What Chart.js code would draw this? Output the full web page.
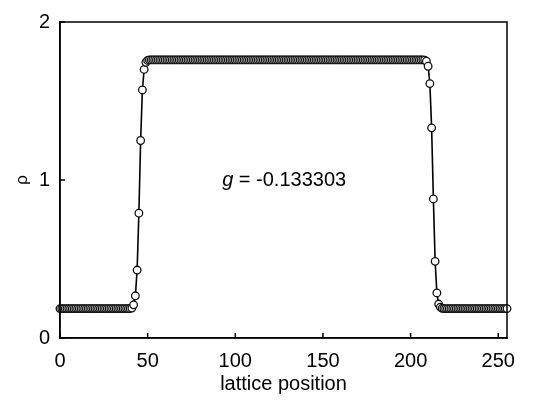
<!DOCTYPE html>
<html>
<head>
<meta charset="utf-8">
<script src="https://cdn.jsdelivr.net/npm/chart.js@4.4.0/dist/chart.umd.min.js"></script>
<style>
  html, body { margin: 0; padding: 0; background: #fff; }
  #wrap { width: 537px; height: 408px; }
</style>
</head>
<body>
<div id="wrap"><canvas id="rhoChart" width="537" height="408"></canvas></div>
<script>
// lattice positions (x) and density values (y)
const positions = [
    0, 1, 2, 3, 4, 5, 6, 7, 8, 9, 10, 11, 12, 13, 14, 15,
    16, 17, 18, 19, 20, 21, 22, 23, 24, 25, 26, 27, 28, 29, 30, 31,
    32, 33, 34, 35, 36, 37, 38, 39, 40, 41, 42, 43, 44, 45, 46, 47,
    48, 49, 50, 51, 52, 53, 54, 55, 56, 57, 58, 59, 60, 61, 62, 63,
    64, 65, 66, 67, 68, 69, 70, 71, 72, 73, 74, 75, 76, 77, 78, 79,
    80, 81, 82, 83, 84, 85, 86, 87, 88, 89, 90, 91, 92, 93, 94, 95,
    96, 97, 98, 99, 100, 101, 102, 103, 104, 105, 106, 107, 108, 109, 110, 111,
    112, 113, 114, 115, 116, 117, 118, 119, 120, 121, 122, 123, 124, 125, 126, 127,
    128, 129, 130, 131, 132, 133, 134, 135, 136, 137, 138, 139, 140, 141, 142, 143,
    144, 145, 146, 147, 148, 149, 150, 151, 152, 153, 154, 155, 156, 157, 158, 159,
    160, 161, 162, 163, 164, 165, 166, 167, 168, 169, 170, 171, 172, 173, 174, 175,
    176, 177, 178, 179, 180, 181, 182, 183, 184, 185, 186, 187, 188, 189, 190, 191,
    192, 193, 194, 195, 196, 197, 198, 199, 200, 201, 202, 203, 204, 205, 206, 207,
    208, 209, 210, 211, 212, 213, 214, 215, 216, 217, 218, 219, 220, 221, 222, 223,
    224, 225, 226, 227, 228, 229, 230, 231, 232, 233, 234, 235, 236, 237, 238, 239,
    240, 241, 242, 243, 244, 245, 246, 247, 248, 249, 250, 251, 252, 253, 254, 255
];
const rho = [
    0.186, 0.186, 0.186, 0.186, 0.186, 0.186, 0.186, 0.186, 0.186, 0.186, 0.186, 0.186, 0.186, 0.186, 0.186, 0.186,
    0.186, 0.186, 0.186, 0.186, 0.186, 0.186, 0.186, 0.186, 0.186, 0.186, 0.186, 0.186, 0.186, 0.186, 0.186, 0.186,
    0.186, 0.186, 0.186, 0.186, 0.186, 0.186, 0.186, 0.186, 0.187, 0.19, 0.21, 0.267, 0.43, 0.79, 1.25, 1.57,
    1.70, 1.745, 1.757, 1.76, 1.76, 1.76, 1.76, 1.76, 1.76, 1.76, 1.76, 1.76, 1.76, 1.76, 1.76, 1.76,
    1.76, 1.76, 1.76, 1.76, 1.76, 1.76, 1.76, 1.76, 1.76, 1.76, 1.76, 1.76, 1.76, 1.76, 1.76, 1.76,
    1.76, 1.76, 1.76, 1.76, 1.76, 1.76, 1.76, 1.76, 1.76, 1.76, 1.76, 1.76, 1.76, 1.76, 1.76, 1.76,
    1.76, 1.76, 1.76, 1.76, 1.76, 1.76, 1.76, 1.76, 1.76, 1.76, 1.76, 1.76, 1.76, 1.76, 1.76, 1.76,
    1.76, 1.76, 1.76, 1.76, 1.76, 1.76, 1.76, 1.76, 1.76, 1.76, 1.76, 1.76, 1.76, 1.76, 1.76, 1.76,
    1.76, 1.76, 1.76, 1.76, 1.76, 1.76, 1.76, 1.76, 1.76, 1.76, 1.76, 1.76, 1.76, 1.76, 1.76, 1.76,
    1.76, 1.76, 1.76, 1.76, 1.76, 1.76, 1.76, 1.76, 1.76, 1.76, 1.76, 1.76, 1.76, 1.76, 1.76, 1.76,
    1.76, 1.76, 1.76, 1.76, 1.76, 1.76, 1.76, 1.76, 1.76, 1.76, 1.76, 1.76, 1.76, 1.76, 1.76, 1.76,
    1.76, 1.76, 1.76, 1.76, 1.76, 1.76, 1.76, 1.76, 1.76, 1.76, 1.76, 1.76, 1.76, 1.76, 1.76, 1.76,
    1.76, 1.76, 1.76, 1.76, 1.76, 1.76, 1.76, 1.76, 1.76, 1.76, 1.76, 1.76, 1.76, 1.76, 1.76, 1.76,
    1.759, 1.752, 1.72, 1.61, 1.33, 0.88, 0.485, 0.285, 0.215, 0.195, 0.188, 0.186, 0.186, 0.186, 0.186, 0.186,
    0.186, 0.186, 0.186, 0.186, 0.186, 0.186, 0.186, 0.186, 0.186, 0.186, 0.186, 0.186, 0.186, 0.186, 0.186, 0.186,
    0.186, 0.186, 0.186, 0.186, 0.186, 0.186, 0.186, 0.186, 0.186, 0.186, 0.186, 0.186, 0.186, 0.186, 0.186, 0.186
];
const xTicks = [0, 50, 100, 150, 200, 250];
const yTicks = [0, 1, 2];
const gLabel = '-0.133303';

const FONT = 'Liberation Sans, Arial, Helvetica, sans-serif';

const points = positions.map((p, i) => ({ x: p, y: rho[i] }));

// frame box, inward tick marks and the g annotation
const framePlugin = {
    id: 'frame',
    afterDraw(chart) {
        const ctx = chart.ctx;
        const a = chart.chartArea;
        const xs = chart.scales.x;
        const ys = chart.scales.y;
        ctx.save();
        ctx.strokeStyle = '#000';
        ctx.lineWidth = 1.5;
        ctx.strokeRect(a.left, a.top, a.right - a.left, a.bottom - a.top);
        ctx.beginPath();
        xTicks.forEach(v => {
            const px = xs.getPixelForValue(v);
            ctx.moveTo(px, a.bottom);
            ctx.lineTo(px, a.bottom - 5);
        });
        yTicks.forEach(v => {
            const py = ys.getPixelForValue(v);
            ctx.moveTo(a.left, py);
            ctx.lineTo(a.left + 5, py);
        });
        ctx.stroke();

        // annotation
        const tx = xs.getPixelForValue(92.5);
        const ty = ys.getPixelForValue(1);
        ctx.fillStyle = '#000';
        ctx.textBaseline = 'middle';
        ctx.textAlign = 'left';
        ctx.font = 'italic 20px ' + FONT;
        ctx.fillText('g', tx, ty);
        const w = ctx.measureText('g').width;
        ctx.font = '20px ' + FONT;
        ctx.fillText(' = ' + gLabel, tx + w, ty);
        ctx.restore();
    }
};

new Chart(document.getElementById('rhoChart').getContext('2d'), {
    type: 'line',
    data: {
        datasets: [{
            data: points,
            borderColor: '#000',
            borderWidth: 1.6,
            pointRadius: 3.8,
            pointBorderWidth: 1.3,
            pointBorderColor: '#111',
            pointBackgroundColor: '#fff',
            tension: 0,
            clip: false
        }]
    },
    options: {
        responsive: false,
        animation: false,
        events: [],
        layout: { padding: { top: 16, right: 30, left: 0, bottom: 0 } },
        plugins: {
            legend: { display: false },
            tooltip: { enabled: false }
        },
        scales: {
            x: {
                type: 'linear',
                min: 0,
                max: 255,
                afterFit: s => { s.height = 70; },
                afterBuildTicks: s => { s.ticks = xTicks.map(v => ({ value: v })); },
                grid: { display: false, drawTicks: false },
                border: { display: true, color: '#000', width: 1.5 },
                ticks: { color: '#000', padding: 11, maxRotation: 0, font: { family: FONT, size: 20 } },
                title: {
                    display: true,
                    text: 'lattice position',
                    color: '#000',
                    font: { family: FONT, size: 20 },
                    padding: { top: 0, bottom: 12 }
                }
            },
            y: {
                min: 0,
                max: 2,
                afterFit: s => { s.width = 60; },
                afterBuildTicks: s => { s.ticks = yTicks.map(v => ({ value: v })); },
                grid: { display: false, drawTicks: false },
                border: { display: true, color: '#000', width: 1.5 },
                ticks: { color: '#000', padding: 10, font: { family: FONT, size: 20 } },
                title: {
                    display: true,
                    text: 'ρ',
                    color: '#000',
                    font: { family: FONT, size: 17 },
                    padding: { top: 12, bottom: 0 }
                }
            }
        }
    },
    plugins: [framePlugin]
});
</script>
</body>
</html>
